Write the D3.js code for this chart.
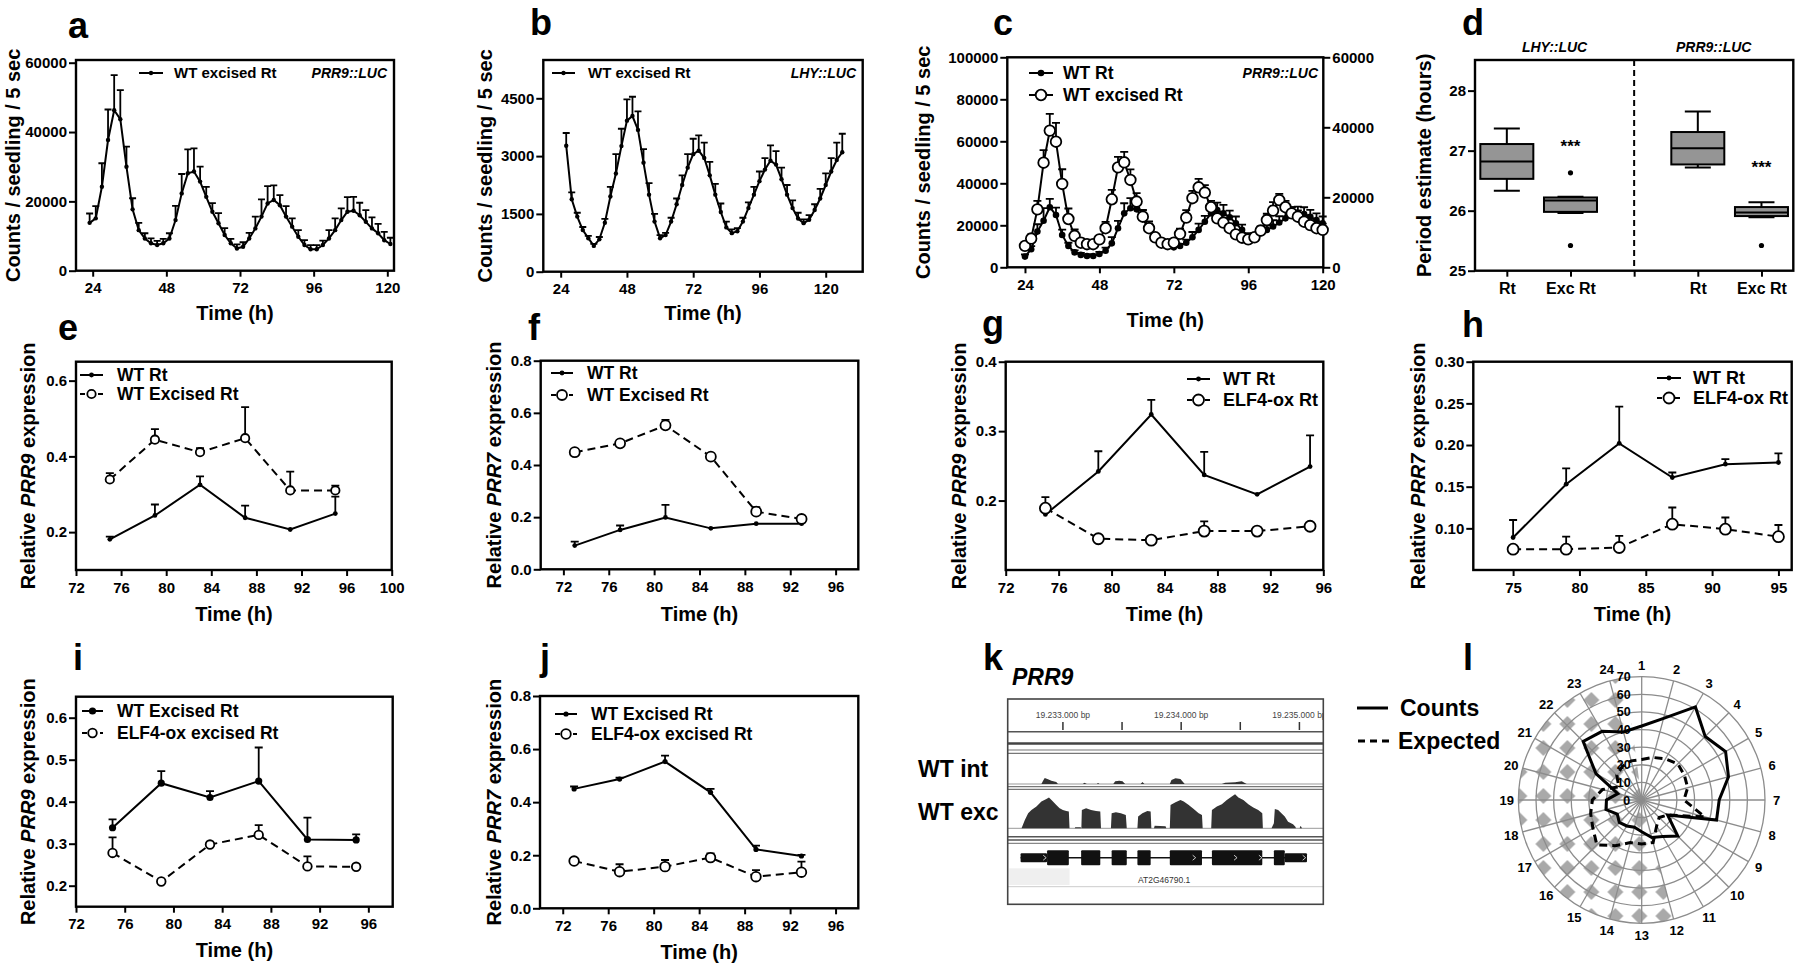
<!DOCTYPE html>
<html><head><meta charset="utf-8">
<script src="https://cdn.jsdelivr.net/npm/d3@7/dist/d3.min.js"></script>
<style>
html,body{margin:0;padding:0;background:#fff;}
svg{display:block;}
</style></head>
<body>
<svg id="fig" width="1800" height="968"></svg>
<script>
// ================= DATA =================
// Panel a : PRR9::LUC, WT excised Rt
const aTime = [23,25,27,29,31,33,35,37,39,41,43,45,47,49,51,53,55,57,59,61,63,65,67,69,71,73,75,77,79,81,83,85,87,89,91,93,95,97,99,101,103,105,107,109,111,113,115,117,119,121];
const aMean = [13800,15100,24200,37700,46300,43700,30000,17700,11700,9300,7900,7400,7900,9300,14600,22300,28100,28600,25700,21300,17000,13700,10300,7900,6400,6900,9300,12200,15600,19400,20400,18900,15600,12700,9800,7400,6200,6200,7400,9300,11700,14600,17000,17300,16000,14100,12200,10800,8800,7700];
const aErr  = [2700,3500,6800,8800,10100,8400,5800,3200,2100,1500,1400,1200,1300,1500,4100,5600,6900,6700,4300,2900,2500,2900,2000,1300,1200,1300,1600,3400,5000,5000,4200,2900,3000,2400,1900,1400,1200,1200,1300,2400,3400,3400,4200,4000,3600,3400,3200,2700,2400,1800];

// Panel b : LHY::LUC, WT excised Rt
const bTime = [26,28,30,32,34,36,38,40,42,44,46,48,50,52,54,56,58,60,62,64,66,68,70,72,74,76,78,80,82,84,86,88,90,92,94,96,98,100,102,104,106,108,110,112,114,116,118,120,122,124,126];
const bMean = [3270,1880,1430,1080,870,670,840,1270,1950,2550,3260,3920,4040,3680,2830,2000,1300,870,950,1300,1750,2250,2700,3050,3140,2950,2500,2000,1550,1150,1000,1050,1300,1650,2000,2350,2650,2880,2780,2400,2000,1650,1380,1260,1350,1600,1900,2250,2600,2900,3100];
const bErr  = [330,180,100,80,60,50,60,100,250,500,450,550,500,480,350,300,200,80,60,100,150,250,350,400,400,400,350,280,220,150,100,80,100,150,200,250,300,400,350,300,250,200,150,100,120,150,250,300,350,450,480];

// Panel c : PRR9::LUC, WT Rt vs WT excised Rt
const cTime = [24,26,28,30,32,34,36,38,40,42,44,46,48,50,52,54,56,58,60,62,64,66,68,70,72,74,76,78,80,82,84,86,88,90,92,94,96,98,100,102,104,106,108,110,112,114,116,118,120];
const cRt     = [5100,8600,17000,22200,28600,24900,15400,10200,7100,5900,5400,5400,6300,7900,11400,18600,25700,28100,27600,23300,17800,13300,11400,10200,9500,10200,11700,14300,17800,21700,25700,27300,25700,23800,21000,17800,14300,14300,16200,17800,19400,21300,23300,24900,25700,25400,24100,22500,21000];
const cRtErr  = [1000,1500,3500,6000,4000,3500,2500,1500,1000,1000,800,800,1000,1500,3000,3500,4800,4800,4800,4000,4000,2000,1500,1000,1000,1000,1500,2500,3000,2800,4000,3500,4000,3200,3200,2500,2000,2000,2000,2000,3000,3000,4000,3700,3200,3200,3200,3200,3200];
const cExc    = [10200,13700,27600,49800,65100,59800,39700,23000,15000,11700,11000,11000,13300,18600,32400,47600,50000,41600,31300,24100,18600,14300,11700,11000,11700,15900,23700,32900,38100,35600,28600,23300,21300,18600,15700,14100,13300,14300,17500,22500,27000,32000,28600,25700,24100,21700,20100,18600,17800];
const cExcErr = [1500,2000,4000,6000,8000,9000,7000,5000,3000,2000,1500,1500,1500,3000,4500,5000,5000,5000,4000,3000,2000,1500,1000,1000,1500,2500,3500,3500,4000,3500,3000,2500,2000,2000,1500,1500,1500,1500,2000,3000,4000,3000,3000,3000,3000,3000,3000,3000,3000];

// Panel d : period estimates (box plots)
const dKeys     = ["LHY Rt","LHY Exc","sep","PRR9 Rt","PRR9 Exc"];
const dLabels   = ["Rt","Exc Rt","","Rt","Exc Rt"];
const dReporter = ["LHY::LUC","PRR9::LUC"];
const dBoxKeys  = ["LHY Rt","LHY Exc","PRR9 Rt","PRR9 Exc"];
const dLow  = [26.33,25.96,26.72,25.89];
const dQ1   = [26.53,25.98,26.77,25.91];
const dMed  = [26.82,26.17,27.04,25.97];
const dQ3   = [27.11,26.22,27.31,26.06];
const dHigh = [27.37,26.23,27.65,26.14];
const dOut  = [[],[26.63,25.42],[],[25.42]];
const dSig  = ["","***","","***"];
const dSigAt = [null,27.14,null,26.79];

// Panels e-j : qPCR time courses
const eTime = [75,79,83,87,91,95];
const eRt = [0.181,0.244,0.325,0.238,0.207,0.249], eRtErr = [0.007,0.029,0.022,0.032,0,0.045];
const eExc = [0.339,0.444,0.411,0.448,0.310,0.310], eExcErr = [0.017,0.028,0.011,0.082,0.050,0.013];

const fTime = [73,77,81,85,89,93];
const fRt = [0.091,0.151,0.199,0.157,0.175,0.175], fRtErr = [0.015,0.017,0.048,0,0,0];
const fExc = [0.449,0.483,0.552,0.432,0.221,0.193], fExcErr = [0,0,0.021,0.010,0.017,0.006];

const gTime = [75,79,83,87,91,95];
const gRt = [0.180,0.242,0.324,0.237,0.209,0.249], gRtErr = [0,0.029,0.021,0.033,0,0.045];
const gOx = [0.189,0.145,0.143,0.156,0.156,0.163], gOxErr = [0.016,0,0,0.014,0,0];

const hTime = [75,79,83,87,91,95];
const hRt = [0.089,0.153,0.202,0.161,0.177,0.179], hRtErr = [0.021,0.019,0.044,0.006,0.006,0.011];
const hOx = [0.075,0.075,0.077,0.105,0.099,0.090], hOxErr = [0,0.015,0.014,0.020,0.014,0.014];

const iTime = [75,79,83,87,91,95];
const iExc = [0.338,0.444,0.410,0.449,0.310,0.309], iExcErr = [0.020,0.029,0.015,0.080,0.052,0.013];
const iOx = [0.278,0.210,0.298,0.321,0.246,0.245], iOxErr = [0.037,0,0,0.023,0.024,0];

const jTime = [73,77,81,85,89,93];
const jExc = [0.450,0.487,0.553,0.437,0.222,0.197], jExcErr = [0.009,0.005,0.022,0.013,0.014,0.004];
const jOx = [0.178,0.138,0.157,0.191,0.119,0.136], jOxErr = [0,0.028,0.025,0.016,0.025,0.040];

// Panel k : PRR9 locus coverage (bp, coverage)
const kRange = [19232533, 19235202];
const kTicks = [19233000,19233500,19234000,19234500,19235000];
const kTickLabels = ["19.233.000 bp","","19.234.000 bp","","19.235.000 bp"];
const kIntCov = [[19232818,0],[19232832,10],[19232846,18],[19232874,14],[19232902,10],[19232944,6],[19232958,0],
  [19233168,0],[19233182,4],[19233202,0],[19233286,0],[19233297,3],[19233308,0],
  [19233426,0],[19233442,8],[19233476,10],[19233504,8],[19233526,0],[19233658,0],[19233672,6],[19233689,0],
  [19233904,0],[19233918,12],[19233952,17],[19233994,15],[19234030,0],
  [19234344,0],[19234372,4],[19234456,5],[19234512,8],[19234554,0]];
const kExcCov = [[19232650,0],[19232678,25],[19232706,45],[19232734,55],[19232776,65],[19232818,80],[19232860,88],[19232882,92],[19232916,80],[19232944,70],[19232972,60],[19233000,55],[19233028,52],[19233050,50],[19233056,0],
  [19233100,0],[19233104,3],[19233150,3],[19233154,0],
  [19233156,0],[19233160,55],[19233196,60],[19233238,55],[19233280,52],[19233316,50],[19233322,0],
  [19233406,0],[19233412,45],[19233448,48],[19233490,45],[19233532,40],[19233540,0],
  [19233630,0],[19233636,35],[19233672,45],[19233714,52],[19233742,50],[19233748,0],
  [19233770,0],[19233776,8],[19233868,6],[19233874,0],
  [19233904,0],[19233910,70],[19233952,78],[19233994,85],[19234022,80],[19234064,70],[19234106,58],[19234148,45],[19234176,40],[19234182,0],
  [19234254,0],[19234260,55],[19234302,65],[19234344,72],[19234386,85],[19234428,95],[19234456,102],[19234484,92],[19234526,85],[19234568,72],[19234610,62],[19234652,55],[19234686,45],[19234691,0],
  [19234764,0],[19234784,15],[19234792,58],[19234820,55],[19234848,45],[19234876,35],[19234904,20],[19234946,12],[19234966,5],[19234971,0],
  [19235002,0],[19235010,8],[19235022,0]];
const kExons = [[19232642,19232866,"utr"],[19232866,19233050,"cds"],[19233154,19233316,"cds"],[19233412,19233540,"cds"],[19233630,19233742,"cds"],[19233904,19234176,"cds"],[19234260,19234686,"cds"],[19234784,19234876,"cds"],[19234876,19235064,"utr"]];
const kArrows = [19232846,19234110,19234460,19234670,19235040];
const kGene = "AT2G46790.1";

// Panel l : radar plot of counts per hour
const lHours = [1,2,3,4,5,6,7,8,9,10,11,12,13,14,15,16,17,18,19,20,21,22,23,24];
const lCounts   = [42,48,61,51,55,51,44,44,17,29,24,22,18,16,17,18,16,21,20,14,30,47,45,40];
const lExpected = [23,25,27,29,28,27,24,37,17,14,17,25,25,25,30,36,32,30,28,23,15,20,22,23];
const lRings = [0,10,20,30,40,50,60,70];
const lShade = [12, 24.5]; // shaded hours (dark period)

// ================= DRAWING =================
const FONT = "'Liberation Sans', Arial, Helvetica, sans-serif";
const svg = d3.select("#fig").attr("font-family", FONT).attr("font-weight","bold");
svg.append("rect").attr("width",1800).attr("height",968).attr("fill","#fff");
const defs = svg.append("defs");

function styleAxis(sel, size) {
  sel.attr("font-family", FONT).attr("font-size", size || 15).attr("font-weight","bold");
  sel.select(".domain").remove();
  sel.selectAll(".tick line").attr("stroke","#000").attr("stroke-width",2);
  sel.selectAll(".tick text").attr("fill","#000");
}

function panel(c) {
  const g = svg.append("g");
  const x = d3.scaleLinear().domain(c.xd).range([c.L, c.R]);
  const y = d3.scaleLinear().domain(c.yd).range([c.B, c.T]);
  const gx = g.append("g").attr("transform",`translate(0,${c.B})`)
    .call(d3.axisBottom(x).tickValues(c.xt).tickSize(6).tickPadding(6).tickFormat(c.xf || d3.format("d")));
  const gy = g.append("g").attr("transform",`translate(${c.L},0)`)
    .call(d3.axisLeft(y).tickValues(c.yt).tickSize(7).tickPadding(2).tickFormat(c.yf || d3.format("d")));
  styleAxis(gx); styleAxis(gy);
  g.append("rect").attr("x",c.L).attr("y",c.T).attr("width",c.R-c.L).attr("height",c.B-c.T)
    .attr("fill","none").attr("stroke","#000").attr("stroke-width",2.4);
  g.append("text").attr("x",(c.L+c.R)/2).attr("y",c.xlabY).attr("text-anchor","middle")
    .attr("font-size",20).text("Time (h)");
  const yl = g.append("text").attr("transform",`translate(${c.ylabX},${(c.T+c.B)/2}) rotate(-90)`)
    .attr("text-anchor","middle").attr("dy","0.35em").attr("font-size",20);
  c.ylab.forEach(p => yl.append("tspan").text(p[0]).attr("font-style", p[1] ? "italic" : null));
  return {g, x, y};
}

function series(p, xs, ys, es, s) {
  const pts = xs.map((t,i) => [t, ys[i], es ? es[i] : 0]);
  const cap = s.cap || 4;
  p.g.append("g").selectAll("path").data(pts.filter(d => d[2] > 0)).join("path")
    .attr("d", d => {
      const X = p.x(d[0]), Y0 = p.y(d[1]), Y1 = p.y(d[1] + d[2]);
      return `M${X},${Y0}V${Y1}M${X-cap},${Y1}H${X+cap}`;
    })
    .attr("fill","none").attr("stroke","#000").attr("stroke-width",1.8);
  p.g.append("path").datum(pts)
    .attr("d", d3.line().x(d => p.x(d[0])).y(d => p.y(d[1])))
    .attr("fill","none").attr("stroke","#000").attr("stroke-width", s.lw || 2)
    .attr("stroke-dasharray", s.dash || null);
  p.g.append("g").selectAll("circle").data(pts).join("circle")
    .attr("cx", d => p.x(d[0])).attr("cy", d => p.y(d[1])).attr("r", s.r)
    .attr("fill", s.open ? "#fff" : "#000").attr("stroke","#000").attr("stroke-width", s.open ? 1.8 : 0);
}

function legend(g, x1, x2, y, s, label, tx, size) {
  g.append("line").attr("x1",x1).attr("x2",x2).attr("y1",y).attr("y2",y)
    .attr("stroke","#000").attr("stroke-width",2).attr("stroke-dasharray", s.dash ? "5,4" : null);
  g.append("circle").attr("cx",(x1+x2)/2).attr("cy",y).attr("r",s.r)
    .attr("fill", s.open ? "#fff" : "#000").attr("stroke","#000").attr("stroke-width", s.open ? 1.8 : 0);
  g.append("text").attr("x",tx).attr("y",y).attr("dy","0.36em").attr("font-size",size).text(label);
}

const dashS = "8,5";
const countLab = [["Counts / seedling / 5 sec", false]];

// ---- a ----
const pa = panel({L:76,R:394,T:60,B:270.7,xd:[18.56,122.18],yd:[0,60780],xt:[24,48,72,96,120],yt:[0,20000,40000,60000],xlabY:320,ylabX:13,ylab:countLab});
series(pa, aTime, aMean, aErr, {r:2.2, cap:3.5});
legend(pa.g, 139, 163, 73, {r:2.2}, "WT excised Rt", 174, 15);
pa.g.append("text").attr("x",387).attr("y",78).attr("text-anchor","end").attr("font-size",14).attr("font-style","italic").text("PRR9::LUC");

// ---- b ----
const pb = panel({L:543.3,R:862.7,T:60,B:271.7,xd:[17.7,133.4],yd:[0,5494],xt:[24,48,72,96,120],yt:[0,1500,3000,4500],xlabY:320,ylabX:485,ylab:countLab});
series(pb, bTime, bMean, bErr, {r:2.2, cap:3.5});
legend(pb.g, 552, 575, 73, {r:2.2}, "WT excised Rt", 588, 15);
pb.g.append("text").attr("x",856).attr("y",78).attr("text-anchor","end").attr("font-size",14).attr("font-style","italic").text("LHY::LUC");

// ---- c ----
const pc = panel({L:1007.3,R:1323.3,T:57.3,B:267.3,xd:[18.3,120.2],yd:[0,100000],xt:[24,48,72,96,120],yt:[0,20000,40000,60000,80000,100000],xlabY:327,ylabX:923,ylab:countLab});
const cyR = d3.scaleLinear().domain([0,60000]).range([267.3,57.3]);
const gcr = pc.g.append("g").attr("transform","translate(1323.3,0)")
  .call(d3.axisRight(cyR).tickValues([0,20000,40000,60000]).tickSize(7).tickPadding(2).tickFormat(d3.format("d")));
styleAxis(gcr);
series(pc, cTime, cRt, cRtErr, {r:3.3, cap:4});
series(pc, cTime, cExc, cExcErr, {r:5.3, open:true, cap:4});
legend(pc.g, 1029, 1053, 73, {r:3.3}, "WT Rt", 1063, 17.5);
legend(pc.g, 1029, 1053, 95, {r:5.3, open:true}, "WT excised Rt", 1063, 17.5);
pc.g.append("text").attr("x",1318).attr("y",78).attr("text-anchor","end").attr("font-size",14).attr("font-style","italic").text("PRR9::LUC");

// ---- d ----
{
  const L=1475, R=1793.3, T=60, B=270.7;
  const g = svg.append("g");
  const x = d3.scalePoint().domain(dKeys).range([L,R]).padding(0.5);
  const y = d3.scaleLinear().domain([25,28.51]).range([B,T]);
  const gx = g.append("g").attr("transform",`translate(0,${B})`)
    .call(d3.axisBottom(x).tickSize(6).tickPadding(6).tickFormat((k,i) => dLabels[dKeys.indexOf(k)]));
  const gy = g.append("g").attr("transform",`translate(${L},0)`)
    .call(d3.axisLeft(y).tickValues([25,26,27,28]).tickSize(7).tickPadding(2).tickFormat(d3.format("d")));
  styleAxis(gx, 16); styleAxis(gy);
  g.append("line").attr("x1",x("sep")).attr("x2",x("sep")).attr("y1",T).attr("y2",B)
    .attr("stroke","#000").attr("stroke-width",2).attr("stroke-dasharray","6,4");
  const bw = 53, cw = 26;
  dBoxKeys.forEach((k,i) => {
    const X = x(k);
    g.append("path").attr("d",`M${X},${y(dQ3[i])}V${y(dHigh[i])}M${X-cw/2},${y(dHigh[i])}H${X+cw/2}M${X},${y(dQ1[i])}V${y(dLow[i])}M${X-cw/2},${y(dLow[i])}H${X+cw/2}`)
      .attr("stroke","#000").attr("stroke-width",2).attr("fill","none");
    g.append("rect").attr("x",X-bw/2).attr("y",y(dQ3[i])).attr("width",bw).attr("height",y(dQ1[i])-y(dQ3[i]))
      .attr("fill","#959595").attr("stroke","#000").attr("stroke-width",2);
    g.append("line").attr("x1",X-bw/2).attr("x2",X+bw/2).attr("y1",y(dMed[i])).attr("y2",y(dMed[i]))
      .attr("stroke","#000").attr("stroke-width",2);
    g.selectAll(null).data(dOut[i]).join("circle").attr("cx",X).attr("cy",v => y(v)).attr("r",2.6).attr("fill","#000");
    if (dSig[i]) {
      g.append("text").attr("x",X).attr("y",y(dSigAt[i]) + 10).attr("text-anchor","middle").attr("font-size",17).text(dSig[i]);
    }
  });
  g.append("rect").attr("x",L).attr("y",T).attr("width",R-L).attr("height",B-T).attr("fill","none").attr("stroke","#000").attr("stroke-width",2.4);
  g.append("text").attr("x",(L+x("sep"))/2).attr("y",52).attr("text-anchor","middle").attr("font-size",14).attr("font-style","italic").text(dReporter[0]);
  g.append("text").attr("x",(R+x("sep"))/2).attr("y",52).attr("text-anchor","middle").attr("font-size",14).attr("font-style","italic").text(dReporter[1]);
  g.append("text").attr("transform",`translate(1424,${(T+B)/2}) rotate(-90)`).attr("text-anchor","middle").attr("dy","0.35em").attr("font-size",20).text("Period estimate (hours)");
}

// ---- e ----
const xt4 = [72,76,80,84,88,92,96];
const pe = panel({L:76,R:391.7,T:361.7,B:570,xd:[72,100],yd:[0.1,0.65],xt:[72,76,80,84,88,92,96,100],yt:[0.2,0.4,0.6],yf:d3.format(".1f"),xlabY:621,ylabX:27.5,
  ylab:[["Relative ",false],["PRR9",true],[" expression",false]]});
series(pe, eTime, eExc, eExcErr, {r:4.2, open:true, dash:dashS});
series(pe, eTime, eRt, eRtErr, {r:2.4});
legend(pe.g, 80, 103, 375, {r:2.4}, "WT Rt", 117, 17.5);
legend(pe.g, 80, 103, 394, {r:4.2, open:true, dash:true}, "WT Excised Rt", 117, 17.5);

// ---- f ----
const pf = panel({L:540.7,R:858.3,T:360.7,B:569.3,xd:[70,98],yd:[0,0.8],xt:xt4,yt:[0,0.2,0.4,0.6,0.8],yf:d3.format(".1f"),xlabY:621,ylabX:493.5,
  ylab:[["Relative ",false],["PRR7",true],[" expression",false]]});
series(pf, fTime, fRt, fRtErr, {r:2.4});
series(pf, fTime, fExc, fExcErr, {r:5, open:true, dash:dashS});
legend(pf.g, 551, 573, 373, {r:2.4}, "WT Rt", 587, 17.5);
legend(pf.g, 551, 573, 395, {r:5, open:true, dash:true}, "WT Excised Rt", 587, 17.5);

// ---- g ----
const pg = panel({L:1005.7,R:1323.3,T:361.7,B:570,xd:[72,96],yd:[0.1,0.4],xt:xt4,yt:[0.2,0.3,0.4],yf:d3.format(".1f"),xlabY:621,ylabX:958.5,
  ylab:[["Relative ",false],["PRR9",true],[" expression",false]]});
series(pg, gTime, gRt, gRtErr, {r:2.4});
series(pg, gTime, gOx, gOxErr, {r:5.5, open:true, dash:dashS});
legend(pg.g, 1187, 1210, 379, {r:2.4}, "WT Rt", 1223, 18);
legend(pg.g, 1187, 1210, 400, {r:5.5, open:true, dash:true}, "ELF4-ox Rt", 1223, 18);

// ---- h ----
const ph = panel({L:1473.3,R:1791.7,T:361.7,B:570,xd:[72,96],yd:[0.05,0.30],xt:[75,80,85,90,95],yt:[0.10,0.15,0.20,0.25,0.30],yf:d3.format(".2f"),xlabY:621,ylabX:1418,
  ylab:[["Relative ",false],["PRR7",true],[" expression",false]]});
series(ph, hTime, hRt, hRtErr, {r:2.4});
series(ph, hTime, hOx, hOxErr, {r:5.5, open:true, dash:dashS});
legend(ph.g, 1657, 1681, 378, {r:2.4}, "WT Rt", 1693, 18);
legend(ph.g, 1657, 1681, 398, {r:5.5, open:true, dash:true}, "ELF4-ox Rt", 1693, 18);

// ---- i ----
const pi = panel({L:76,R:392.7,T:696.7,B:906.7,xd:[72,98],yd:[0.15,0.65],xt:xt4,yt:[0.2,0.3,0.4,0.5,0.6],yf:d3.format(".1f"),xlabY:957,ylabX:27.5,
  ylab:[["Relative ",false],["PRR9",true],[" expression",false]]});
series(pi, iTime, iExc, iExcErr, {r:3.6});
series(pi, iTime, iOx, iOxErr, {r:4.3, open:true, dash:dashS});
legend(pi.g, 82, 103, 711, {r:3.6}, "WT Excised Rt", 117, 17.5);
legend(pi.g, 82, 103, 733, {r:4.3, open:true, dash:true}, "ELF4-ox excised Rt", 117, 17.5);

// ---- j ----
const pj = panel({L:540,R:858.3,T:696,B:908.3,xd:[70,98],yd:[0,0.8],xt:xt4,yt:[0,0.2,0.4,0.6,0.8],yf:d3.format(".1f"),xlabY:959,ylabX:493.5,
  ylab:[["Relative ",false],["PRR7",true],[" expression",false]]});
series(pj, jTime, jExc, jExcErr, {r:2.6});
series(pj, jTime, jOx, jOxErr, {r:4.8, open:true, dash:dashS});
legend(pj.g, 555, 577, 714, {r:2.6}, "WT Excised Rt", 591, 17.5);
legend(pj.g, 555, 577, 734, {r:4.8, open:true, dash:true}, "ELF4-ox excised Rt", 591, 17.5);

// ---- k ----
{
  const L=1007.7, R=1323.3, T=699, B=904.3;
  const g = svg.append("g");
  defs.append("clipPath").attr("id","kclip").append("rect").attr("x",L).attr("y",T).attr("width",R-L).attr("height",B-T);
  const inner = g.append("g").attr("clip-path","url(#kclip)");
  const kx = d3.scaleLinear().domain(kRange).range([L,R]);
  const kc = d3.scaleLinear().domain([0,110]).range([0,36.7]);
  inner.append("rect").attr("x",L).attr("y",T).attr("width",R-L).attr("height",B-T).attr("fill","#fff");
  inner.selectAll("text.tl").data(kTicks).join("text").attr("x",d=>kx(d)).attr("y",718).attr("text-anchor","middle")
    .attr("font-size",8.5).attr("font-weight","normal").attr("fill","#444").text((d,i)=>kTickLabels[i]);
  inner.selectAll("line.tk").data(kTicks).join("line").attr("x1",d=>kx(d)).attr("x2",d=>kx(d)).attr("y1",722).attr("y2",730)
    .attr("stroke","#333").attr("stroke-width",1.5);
  const rules = [[731.7,1.4,"#555"],[743.5,2.4,"#444"],[750,1.2,"#777"],[753.3,1.2,"#777"],[786.7,1.2,"#777"],[789.3,1.2,"#777"],[836.7,1.4,"#555"],[840,1.4,"#555"],[843.3,1.2,"#888"],[886.7,1,"#ccc"]];
  rules.forEach(r => inner.append("line").attr("x1",L).attr("x2",R).attr("y1",r[0]).attr("y2",r[0]).attr("stroke",r[2]).attr("stroke-width",r[1]));
  inner.append("line").attr("x1",L).attr("x2",R).attr("y1",784).attr("y2",784).attr("stroke","#999").attr("stroke-width",1);
  inner.append("line").attr("x1",L).attr("x2",R).attr("y1",828.3).attr("y2",828.3).attr("stroke","#999").attr("stroke-width",1);
  inner.append("path").datum(kIntCov).attr("d", d3.area().x(d=>kx(d[0])).y0(784).y1(d=>784-kc(d[1]))).attr("fill","#333");
  inner.append("path").datum(kExcCov).attr("d", d3.area().x(d=>kx(d[0])).y0(828.3).y1(d=>828.3-kc(d[1]))).attr("fill","#333");
  const gy = 857.7;
  inner.append("line").attr("x1",kx(kExons[0][0])).attr("x2",kx(kExons[kExons.length-1][1])).attr("y1",gy).attr("y2",gy).attr("stroke","#111").attr("stroke-width",1.6);
  inner.selectAll("rect.ex").data(kExons).join("rect")
    .attr("x",d=>kx(d[0])).attr("width",d=>kx(d[1])-kx(d[0]))
    .attr("y",d=>d[2]==="cds"?gy-7.5:gy-4.5).attr("height",d=>d[2]==="cds"?15:9)
    .attr("fill","#111").attr("rx",1);
  inner.selectAll("path.ar").data(kArrows).join("path")
    .attr("d",d=>`M${kx(d)-1.5},${gy-2.5}L${kx(d)+1.5},${gy}L${kx(d)-1.5},${gy+2.5}`)
    .attr("stroke","#ddd").attr("stroke-width",0.9).attr("fill","none");
  inner.append("rect").attr("x",L+1.5).attr("y",868.3).attr("width",kx(19233056)-L-1.5).attr("height",16.7).attr("fill","#efefef");
  inner.append("text").attr("x",kx(19234000)-17).attr("y",883).attr("text-anchor","middle").attr("font-size",8.5).attr("font-weight","normal").attr("fill","#333").text(kGene);
  g.append("rect").attr("x",L).attr("y",T).attr("width",R-L).attr("height",B-T).attr("fill","none").attr("stroke","#444").attr("stroke-width",1.6);
  g.append("text").attr("x",1012).attr("y",685).attr("font-size",23).attr("font-style","italic").text("PRR9");
  g.append("text").attr("x",918).attr("y",777).attr("font-size",23).text("WT int");
  g.append("text").attr("x",918).attr("y",820).attr("font-size",23).text("WT exc");
}

// ---- l ----
{
  const cx = 1641.7, cy = 800;
  const g = svg.append("g").attr("transform",`translate(${cx},${cy})`);
  const la = d3.scaleLinear().domain([1,25]).range([0, 2*Math.PI]);
  const lr = d3.scaleLinear().domain([0,70]).range([0,123.3]);
  const pat = defs.append("pattern").attr("id","dia").attr("patternUnits","userSpaceOnUse")
    .attr("width",24).attr("height",24).attr("x",cx).attr("y",cy);
  pat.append("path").attr("d","M12,4 L20,12 L12,20 L4,12Z").attr("fill","#a9a9a9");
  g.append("path").attr("d", d3.arc().innerRadius(0).outerRadius(lr(70)).startAngle(la(lShade[0])).endAngle(la(lShade[1]))())
    .attr("fill","url(#dia)");
  g.selectAll("circle.ring").data(lRings.slice(1)).join("circle").attr("r",d=>lr(d)).attr("fill","none").attr("stroke","#8c8c8c").attr("stroke-width",1.3);
  g.selectAll("line.sp").data(lHours).join("line")
    .attr("x2",d=>Math.sin(la(d))*lr(70)).attr("y2",d=>-Math.cos(la(d))*lr(70))
    .attr("stroke","#8c8c8c").attr("stroke-width",1.3);
  g.selectAll("text.hr").data(lHours).join("text")
    .attr("x",d=>Math.sin(la(d))*135).attr("y",d=>-Math.cos(la(d))*135).attr("dy","0.36em")
    .attr("text-anchor","middle").attr("font-size",13).text(d=>d);
  g.selectAll("text.rv").data(lRings).join("text")
    .attr("x",d=>d===0?-15:-18).attr("y",d=>-lr(d)).attr("dy","0.36em")
    .attr("text-anchor","middle").attr("font-size",12.5).text(d=>d);
  const rl = d3.lineRadial().angle((d,i)=>la(lHours[i])).radius(d=>lr(d)).curve(d3.curveLinearClosed);
  g.append("path").attr("d",rl(lExpected)).attr("fill","none").attr("stroke","#000").attr("stroke-width",3).attr("stroke-dasharray","8,5");
  g.append("path").attr("d",rl(lCounts)).attr("fill","none").attr("stroke","#000").attr("stroke-width",3);
  svg.append("line").attr("x1",1357).attr("x2",1388).attr("y1",708).attr("y2",708).attr("stroke","#000").attr("stroke-width",3);
  svg.append("text").attr("x",1400).attr("y",708).attr("dy","0.36em").attr("font-size",23).text("Counts");
  svg.append("line").attr("x1",1358).attr("x2",1390).attr("y1",741).attr("y2",741).attr("stroke","#000").attr("stroke-width",3).attr("stroke-dasharray","7,5");
  svg.append("text").attr("x",1398).attr("y",741).attr("dy","0.36em").attr("font-size",23).text("Expected");
}

// ---- panel letters ----
const letters = [["a",68,38],["b",530,35],["c",993,35],["d",1462,35],["e",58,340],["f",528,340],["g",982,336],["h",1462,337],["i",73,670],["j",540,670],["k",983,670],["l",1463,670]];
svg.selectAll("text.letter").data(letters).join("text").attr("class","letter")
  .attr("x",d=>d[1]).attr("y",d=>d[2]).attr("font-size",36).text(d=>d[0]);
</script>
</body></html>
